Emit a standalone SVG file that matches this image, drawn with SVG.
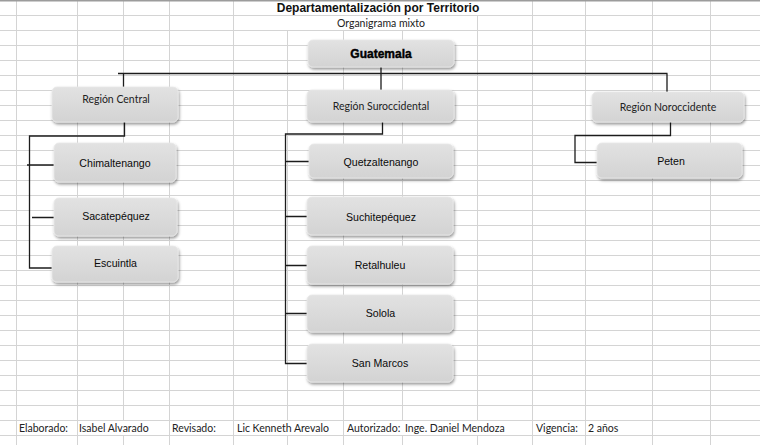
<svg xmlns="http://www.w3.org/2000/svg" width="760" height="445" viewBox="0 0 760 445">
<defs>
<linearGradient id="g" x1="0" y1="0" x2="0" y2="1">
<stop offset="0" stop-color="#e2e2e2"/>
<stop offset="1" stop-color="#d3d3d3"/>
</linearGradient>
<filter id="sh" x="-10%" y="-20%" width="125%" height="160%">
<feDropShadow dx="1" dy="2" stdDeviation="1.4" flood-color="#000" flood-opacity="0.42"/>
</filter>
</defs>
<style>
.grid{stroke:#d4d4d4;stroke-width:1;fill:none}
.box{fill:url(#g);stroke:#e9e9e9;stroke-width:0.8;filter:url(#sh)}
.t{font-family:"Liberation Sans",Arial,sans-serif;font-size:10.6px;fill:#0a0a0a;text-anchor:middle}
.r{font-family:Lato,"Open Sans",sans-serif;font-size:10.5px;fill:#222;text-anchor:middle}
.f{font-family:Lato,"Open Sans",sans-serif;font-size:10.5px;fill:#222}
.c{stroke:#1c1c1c;stroke-width:1.3;fill:none}
</style>
<rect width="760" height="445" fill="#fff"/>
<g id="grid">
<path class="grid" d="M0,15.5H760M0,30.5H760M0,45.5H760M0,60.5H760M0,75.5H760M0,90.5H760M0,105.5H760M0,120.5H760M0,135.5H760M0,150.5H760M0,165.5H760M0,180.5H760M0,195.5H760M0,210.5H760M0,225.5H760M0,240.5H760M0,255.5H760M0,270.5H760M0,285.5H760M0,300.5H760M0,315.5H760M0,330.5H760M0,345.5H760M0,360.5H760M0,375.5H760M0,390.5H760M0,405.5H760M0,420.5H760M0,435.5H760"/>
<path class="grid" d="M16.5,0V445M77.5,0V445M123.5,0V420.5M123.5,435.5V445M169.5,0V445M233.5,0V445M287.5,30.5V420.5M287.5,435.5V445M343.5,30.5V445M402.5,30.5V420.5M402.5,435.5V445M477.5,15.5V420.5M477.5,435.5V445M532.5,0V445M585.5,0V445M652.5,0V445M710.5,0V445"/>
<path d="M0,0.8H760" stroke="#9c9c9c" stroke-width="1.6"/>
</g>
<g id="titles">
<text x="378" y="12" font-family="Liberation Sans, Arial, sans-serif" font-size="12" font-weight="bold" fill="#111" text-anchor="middle">Departamentalización por Territorio</text>
<text x="381" y="27" class="r">Organigrama mixto</text>
</g>
<g id="connectors">
<path class="c" d="M381,67V90M118,73.5H667.5M123.5,73.5V87M667,73.5V92"/>
<path class="c" d="M124.5,122V136H29.5V268H52M27,165H54M32,217.5H54"/>
<path class="c" d="M382.5,122V134H285.5V363.5H307M285.5,161.5H309M285.5,216.5H307M285.5,265.5H307M285.5,313.5H307"/>
<path class="c" d="M670.5,122V135.5H575V162.5H597"/>
</g>
<g id="guatemala"><rect class="box" x="308" y="40" width="146" height="27" rx="5"/><text x="381" y="58" font-family="Liberation Sans, Arial, sans-serif" font-size="12" font-weight="bold" fill="#000" text-anchor="middle" stroke="#000" stroke-width="0.4">Guatemala</text></g>
<g id="region-central"><rect class="box" x="52" y="87" width="126" height="35" rx="5"/><text class="r" x="116" y="103">Región Central</text></g>
<g id="region-suroccidental"><rect class="box" x="307" y="90" width="147" height="32" rx="5"/><text class="r" x="381" y="109.5">Región Suroccidental</text></g>
<g id="region-noroccidente"><rect class="box" x="592" y="92" width="152" height="30" rx="5"/><text class="r" x="668" y="110.5">Región Noroccidente</text></g>
<g id="chimaltenango"><rect class="box" x="54" y="143" width="122" height="39" rx="5"/><text class="t" x="115" y="167">Chimaltenango</text></g>
<g id="sacatepequez"><rect class="box" x="54" y="198" width="123" height="38" rx="5"/><text class="t" x="116" y="220">Sacatepéquez</text></g>
<g id="escuintla"><rect class="box" x="52" y="246" width="126" height="36" rx="5"/><text class="t" x="115.5" y="267">Escuintla</text></g>
<g id="quetzaltenango"><rect class="box" x="309" y="144" width="144" height="34" rx="5"/><text class="t" x="381" y="166">Quetzaltenango</text></g>
<g id="suchitepequez"><rect class="box" x="307" y="197" width="146" height="38" rx="5"/><text class="t" x="381" y="220.5">Suchitepéquez</text></g>
<g id="retalhuleu"><rect class="box" x="307" y="246" width="146" height="38" rx="5"/><text class="t" x="380" y="269">Retalhuleu</text></g>
<g id="solola"><rect class="box" x="307" y="295" width="146" height="37" rx="5"/><text class="t" x="380.5" y="317">Solola</text></g>
<g id="san-marcos"><rect class="box" x="307" y="344" width="146" height="38" rx="5"/><text class="t" x="380" y="367">San Marcos</text></g>
<g id="peten"><rect class="box" x="597" y="143" width="145" height="35" rx="5"/><text class="t" x="671" y="165">Peten</text></g>
<g id="footer">
<text class="f" x="19" y="432">Elaborado:</text>
<text class="f" x="79" y="432">Isabel Alvarado</text>
<text class="f" x="172" y="432">Revisado:</text>
<text class="f" x="237" y="432">Lic Kenneth Arevalo</text>
<text class="f" x="347" y="432">Autorizado:</text>
<text class="f" x="405" y="432">Inge. Daniel Mendoza</text>
<text class="f" x="536" y="432">Vigencia:</text>
<text class="f" x="588" y="432">2 años</text>
</g>
</svg>
